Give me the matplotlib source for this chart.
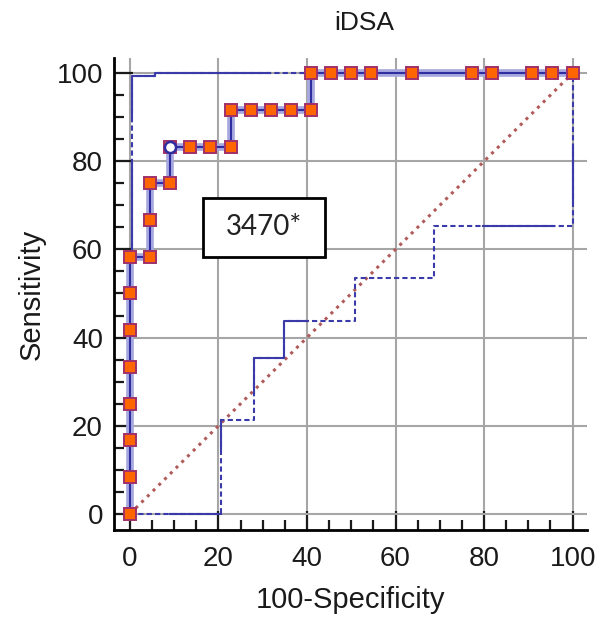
import matplotlib
matplotlib.use("Agg")
import matplotlib.pyplot as plt
from matplotlib.patches import Rectangle
from matplotlib.ticker import MultipleLocator

# ROC curve (100-Specificity, Sensitivity)
roc_x = [0, 0, 0, 0, 0, 0, 0, 0, 4.55, 4.55, 4.55, 9.09, 9.09, 13.64, 18.18,
         22.73, 22.73, 27.27, 31.82, 36.36, 40.91, 40.91, 45.45, 50, 54.55,
         63.64, 77.27, 81.82, 90.91, 95.45, 100]
roc_y = [0, 8.33, 16.67, 25, 33.33, 41.67, 50, 58.33, 58.33, 66.67, 75, 75,
         83.33, 83.33, 83.33, 83.33, 91.67, 91.67, 91.67, 91.67, 91.67, 100,
         100, 100, 100, 100, 100, 100, 100, 100, 100]
# optimal criterion point
crit_x = [9.09]
crit_y = [83.33]
crit_label = "3470*"

# confidence bounds
upper_x = [0.5, 0.5, 5.6, 5.6, 100]
upper_y = [0, 99.3, 99.3, 100, 100]
lower_x = [0, 20.5, 20.5, 28, 28, 34.8, 34.8, 50.8, 50.8, 68.6, 68.6, 100, 100]
lower_y = [0, 0, 21.3, 21.3, 35.4, 35.4, 43.8, 43.8, 53.6, 53.6, 65.2, 65.2, 100]

# parts of the bounds drawn solid
solid_parts = [
    ([0.5, 0.5], [0, 80]),
    ([0.5, 0.5, 5.6, 5.6, 31.6], [90, 99.3, 99.3, 100, 100]),
    ([39, 65.5], [100, 100]),
    ([75, 100], [100, 100]),
    ([9, 20.5], [0, 0]),
    ([20.5, 20.5], [14.5, 21.3]),
    ([28, 28, 34.8, 34.8, 40.2], [27.4, 35.4, 35.4, 43.8, 43.8]),
    ([79.7, 95.5], [65.2, 65.2]),
    ([100, 100], [71, 83]),
]

plt.rcParams['font.family'] = ['Liberation Sans', 'DejaVu Sans']

fig = plt.figure(figsize=(6, 6.24), dpi=100)
ax = fig.add_axes([0.19, 0.151, 0.788, 0.756])

blue = '#3a3aaa'
ax.plot([0, 100], [0, 100], color='#b05a5a', ls=':', lw=2.2, zorder=2)

ax.plot(upper_x, upper_y, color=blue, lw=1.5, ls=(0, (2.5, 1.5)), zorder=3)
ax.plot(lower_x, lower_y, color=blue, lw=1.5, ls=(0, (2.5, 1.5)), zorder=3)
for sx, sy in solid_parts:
    ax.plot(sx, sy, color=blue, lw=1.5, zorder=3)

ax.plot(roc_x, roc_y, color='#a8a8e0', lw=5.5, zorder=4, solid_capstyle='butt')
ax.plot(roc_x, roc_y, color='#2e2ea0', lw=1.5, zorder=5)
ax.plot(roc_x, roc_y, ls='none', marker='s', ms=9, mfc='#ff6600',
        mec='#a0306a', mew=1.4, zorder=6)
ax.plot(crit_x, crit_y, ls='none', marker='o', ms=8, mfc='white',
        mec='#2e2ea0', mew=1.8, zorder=7)

ax.add_patch(Rectangle((16.5, 58.3), 27.5, 13.4, fc='white', ec='black',
                       lw=2, zorder=8))
ax.text(30.2, 65.0, crit_label, ha='center', va='center', fontsize=20,
        family=['Lato', 'DejaVu Sans'], color='#222222', zorder=9)

ax.set_xlim(-3.6, 103.2)
ax.set_ylim(-3.6, 103.4)
ax.xaxis.set_major_locator(MultipleLocator(20))
ax.yaxis.set_major_locator(MultipleLocator(20))
ax.xaxis.set_minor_locator(MultipleLocator(5))
ax.yaxis.set_minor_locator(MultipleLocator(5))
ax.grid(True, which='major', color='#a6a6a6', lw=1.5, zorder=1)
ax.set_axisbelow(True)

for s in ['top', 'right']:
    ax.spines[s].set_visible(False)
for s in ['left', 'bottom']:
    ax.spines[s].set_linewidth(2)
ax.tick_params(which='major', direction='in', length=14, width=1.6,
               labelsize=20, colors='#1a1a1a')
ax.tick_params(axis='x', which='major', pad=12)
ax.tick_params(axis='y', which='major', pad=8)
ax.tick_params(which='minor', direction='in', length=7, width=1.6,
               color='#1a1a1a')

ax.set_xlabel('100-Specificity', fontsize=21, color='#1a1a1a', labelpad=10)
ax.set_ylabel('Sensitivity', fontsize=21, color='#1a1a1a', labelpad=8)
ax.set_title('iDSA', fontsize=19, color='#1a1a1a', pad=20, x=0.53)

fig.savefig('out.png', dpi=100)
